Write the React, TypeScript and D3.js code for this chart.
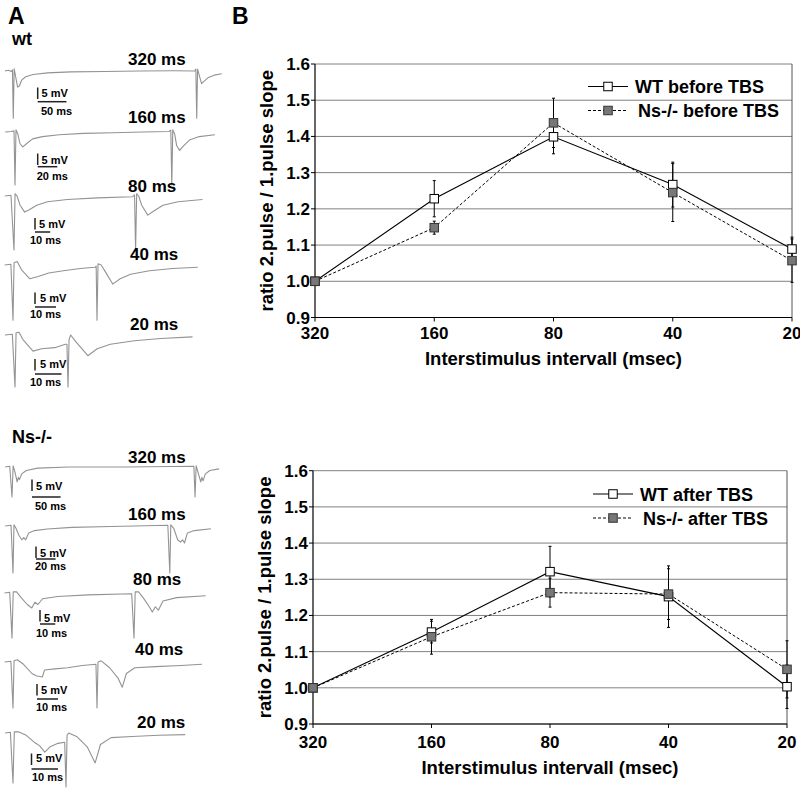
import React from "react";
import * as d3 from "d3";

// ---------- chart data ----------
const categories = ["320", "160", "80", "40", "20"];
const yTicks = [0.9, 1.0, 1.1, 1.2, 1.3, 1.4, 1.5, 1.6];

const wtBefore = [1.0, 1.228, 1.399, 1.267, 1.089];
const wtBeforeErr = [0, 0.05, 0.047, 0.062, 0.033];
const nsBefore = [1.0, 1.148, 1.4375, 1.245, 1.057];
const nsBeforeErr = [0, 0.018, 0.068, 0.08, 0.06];

const wtAfter = [1.0, 1.154, 1.321, 1.252, 1.003];
const wtAfterErr = [0, 0.03, 0.07, 0.085, 0.06];
const nsAfter = [1.0, 1.141, 1.263, 1.259, 1.051];
const nsAfterErr = [0, 0.048, 0.04, 0.07, 0.079];

const legendBefore = ["WT before TBS", "Ns-/- before TBS"];
const legendAfter = ["WT after TBS", "Ns-/- after TBS"];

// ---------- trace data: [time ms, mV] ----------
const wt320: [number, number][] = [[-14,0],[-8,0.3],[-3,-0.2],[-1,0.5],[0.5,-20.5],[2,1],[5,-3],[8,-7],[11,-6.5],[15,-4],[22,-2.5],[35,-1.5],[60,-0.8],[100,-0.4],[160,-0.2],[220,0],[280,0.1],[316,0],[318,0.8],[319.5,-20.5],[321,0.8],[324,-2],[328,-5.5],[332,-4.5],[340,-2.8],[350,-1.8],[363,-1.2]];
const wt160: [number, number][] = [[-10,0],[-4,0.2],[-1,0.5],[0,-23],[1,1],[3,-1],[5,-5],[8,-6.5],[12,-5],[18,-3],[28,-2],[45,-1.2],[70,-0.6],[100,-0.3],[130,0],[157,0.2],[159,0.8],[160,-23],[161,1],[163,-1],[165,-6],[168,-8],[172,-6],[178,-3.5],[188,-2],[204,-1.2]];
const wt80: [number, number][] = [[-6,0],[-2,0.3],[0,-23.5],[0.7,1],[2,0],[4,-4],[7,-7],[10,-6],[15,-4],[22,-2.5],[35,-1.5],[55,-0.8],[78,-0.3],[79.3,0.5],[80,-23.5],[80.7,1],[82,0],[84,-4],[88,-8.3],[92,-6.5],[98,-4],[108,-2.5],[124,-1.5]];
const wt40: [number, number][] = [[-4,0],[-1,0.3],[0,-24],[0.5,1],[2,1.5],[4,-2],[8,-6],[12,-5],[17,-3.5],[24,-2.5],[32,-1.5],[39,-1],[39.6,-0.5],[40,-24],[40.5,0.5],[42,0],[44,-3],[47.5,-8.3],[51,-6],[56,-4],[65,-2.5],[76,-1.5],[88,-1]];
const wt20: [number, number][] = [[-3.8,0],[-1,0.3],[0,-22.6],[0.4,1],[1.5,1.2],[3,-2],[6.8,-7],[10,-6],[15,-5.5],[19,-4],[19.6,-4],[20,-22.6],[20.4,-2],[21,0],[23,-3],[27.5,-9],[31,-6],[36,-4],[45,-2.5],[55,-1.5],[67,-0.8]];

const ns320: [number, number][] = [[-12,0],[-4,0.3],[0,-13],[2,0.5],[5,-2],[9,-6.5],[11,-4.5],[13,-5.5],[17,-3],[25,-1.5],[45,-0.5],[100,0],[200,0],[318,0.3],[320,-13],[322,0.5],[326,-3],[330,-6.5],[332,-4.5],[334,-6],[338,-3],[346,-1.5],[362,-0.8]];
const ns160: [number, number][] = [[-8,0],[-2,0.3],[0,-20.4],[1,0.5],[3,-1],[6,-4],[9,-6],[11,-5],[13,-6],[16,-3],[22,-2],[35,-1.3],[60,-0.6],[100,-0.2],[158,0.3],[160,-20.4],[161,0.5],[164,-1],[168,-6],[171,-7],[173,-6],[175,-7.4],[178,-3],[185,-2],[202,-1.2]];
const ns80: [number, number][] = [[-5,0],[-1.5,0.3],[0,-19.6],[0.8,0.5],[3,0.5],[6,-2],[10,-5],[13,-6.5],[15,-4],[17,-5],[20,-2.5],[30,-1.5],[50,-0.8],[78.5,-0.3],[80,-19.6],[80.8,0.5],[83,0.5],[86,-2],[90,-6],[92,-8.3],[94,-6],[96,-7.5],[99,-3.5],[108,-2],[127,-1.2]];
const ns40: [number, number][] = [[-4,0],[-1,0.3],[0,-20],[0.5,0.5],[2,1],[5,-1],[9,-5],[11,-6],[14,-6.5],[15,-3.5],[20,-3],[26,-2.5],[33,-1.5],[39.5,-1],[40,-20],[40.5,0],[42,0.5],[46,-2.5],[50,-7],[52,-11],[54,-5],[58,-2.5],[68,-2],[80,-1.5],[90,-1]];
const ns20: [number, number][] = [[-3,0],[-1,0.3],[0,-21.7],[0.5,0.5],[2,0.5],[5,-1],[8,-4],[10,-5.5],[12,-8.3],[14,-6],[17,-4.5],[19.5,-4],[20,-23.5],[20.4,-1],[21,0],[24,-1.5],[28,-6],[31,-13],[33,-5],[37,-2],[45,-1.5],[55,-1],[65,-0.7]];

const traceLabels = ["320 ms", "160 ms", "80 ms", "40 ms", "20 ms"];
const scaleMs = [50, 20, 10, 10, 10];
const scaleMv = 5;

// ---------- layout ----------
const FONT = "'Liberation Sans', Arial, Helvetica, sans-serif";
const PX_MV = 2.3;

const wtLayout = [
  { data: wt320, baseY: 71, stimX: 13, pxMs: 0.575, lx: 128, ly: 65, vx: 37.7, vy: 87.5, hy: 101.7, mvx: 41.5, mvy: 96.5, msx: 41, msy: 114.5 },
  { data: wt160, baseY: 132, stimX: 15, pxMs: 0.98, lx: 128, ly: 123, vx: 37.7, vy: 153.5, hy: 166.7, mvx: 41.5, mvy: 163.5, msx: 36.7, msy: 179.5 },
  { data: wt80, baseY: 196, stimX: 14, pxMs: 1.52, lx: 128, ly: 192, vx: 35, vy: 218, hy: 232, mvx: 39, mvy: 228, msx: 30, msy: 244 },
  { data: wt40, baseY: 265, stimX: 13, pxMs: 2.1, lx: 130, ly: 260, vx: 35, vy: 292.5, hy: 307, mvx: 40, mvy: 302, msx: 30, msy: 318 },
  { data: wt20, baseY: 335, stimX: 15, pxMs: 2.65, lx: 130, ly: 330, vx: 35, vy: 359, hy: 374, mvx: 40, mvy: 368, msx: 30, msy: 386 },
];
const nsLayout = [
  { data: ns320, baseY: 467, stimX: 12, pxMs: 0.572, lx: 128, ly: 463, vx: 32, vy: 479.5, hy: 497, mvx: 36, mvy: 490, msx: 35, msy: 510 },
  { data: ns160, baseY: 526, stimX: 13, pxMs: 0.98, lx: 128, ly: 520, vx: 36, vy: 546.5, hy: 559, mvx: 40, mvy: 557, msx: 35, msy: 570 },
  { data: ns80, baseY: 593, stimX: 12, pxMs: 1.525, lx: 133, ly: 585, vx: 40, vy: 610, hy: 624, mvx: 44, mvy: 622, msx: 36, msy: 637 },
  { data: ns40, baseY: 662, stimX: 13, pxMs: 2.1, lx: 135, ly: 655, vx: 37, vy: 684, hy: 699, mvx: 41, mvy: 694, msx: 36, msy: 711 },
  { data: ns20, baseY: 733, stimX: 13, pxMs: 2.65, lx: 137, ly: 728, vx: 31.5, vy: 753.5, hy: 769, mvx: 36, mvy: 762, msx: 32, msy: 781 },
];

type Lay = typeof wtLayout[number];

function Trace({ lay, i }: { lay: Lay; i: number }) {
  const x = d3.scaleLinear().domain([0, 1]).range([lay.stimX, lay.stimX + lay.pxMs]);
  const y = d3.scaleLinear().domain([0, -1]).range([lay.baseY, lay.baseY + PX_MV]);
  const line = d3.line<[number, number]>().x((d) => x(d[0])).y((d) => y(d[1]));
  const vLen = y(-scaleMv) - y(0);
  const hLen = x(scaleMs[i]) - x(0);
  return (
    <g>
      <path d={line(lay.data) || ""} fill="none" stroke="#939393" strokeWidth={1.1} strokeLinejoin="round" />
      <text x={lay.lx} y={lay.ly} fontFamily={FONT} fontWeight="bold" fontSize={17}>{traceLabels[i]}</text>
      <line x1={lay.vx} x2={lay.vx} y1={lay.vy} y2={lay.vy + vLen} stroke="#222" strokeWidth={1.5} />
      <line x1={lay.vx} x2={lay.vx + hLen} y1={lay.hy} y2={lay.hy} stroke="#222" strokeWidth={1.5} />
      <text x={lay.mvx} y={lay.mvy} fontFamily={FONT} fontWeight="bold" fontSize={11}>{scaleMv + " mV"}</text>
      <text x={lay.msx} y={lay.msy} fontFamily={FONT} fontWeight="bold" fontSize={11}>{scaleMs[i] + " ms"}</text>
    </g>
  );
}

interface ChartProps {
  left: number; right: number; top: number; bottom: number;
  wt: number[]; wtErr: number[]; ns: number[]; nsErr: number[];
  legend: string[];
  legX: number; legY: number; legTextX: number;
  tickY: number; titleY: number; yTitleX: number;
}

function Chart(p: ChartProps) {
  const x = d3.scalePoint<string>().domain(categories).range([p.left, p.right]);
  const y = d3.scaleLinear().domain([0.9, 1.6]).range([p.bottom, p.top]);
  const line = d3.line<number>().x((_, i) => x(categories[i])!).y((d) => y(d));
  const ms = 8.5;
  const errBars = (vals: number[], errs: number[], key: string) =>
    vals.map((v, i) =>
      errs[i] > 0 ? (
        <g key={key + i} stroke="#000" strokeWidth={1}>
          <line x1={x(categories[i])} x2={x(categories[i])} y1={y(v - errs[i])} y2={y(v + errs[i])} />
          <line x1={x(categories[i])! - 1.5} x2={x(categories[i])! + 1.5} y1={y(v - errs[i])} y2={y(v - errs[i])} />
          <line x1={x(categories[i])! - 1.5} x2={x(categories[i])! + 1.5} y1={y(v + errs[i])} y2={y(v + errs[i])} />
        </g>
      ) : null
    );
  const markers = (vals: number[], fill: string, stroke: string, key: string) =>
    vals.map((v, i) => (
      <rect key={key + i} x={x(categories[i])! - ms / 2} y={y(v) - ms / 2} width={ms} height={ms} fill={fill} stroke={stroke} strokeWidth={1} />
    ));
  const midY = (p.top + p.bottom) / 2;
  return (
    <g>
      {yTicks.map((t) => (
        <line key={"g" + t} x1={p.left} x2={p.right} y1={y(t)} y2={y(t)} stroke="#808080" strokeWidth={1} />
      ))}
      <line x1={p.right} x2={p.right} y1={p.top} y2={p.bottom} stroke="#555" strokeWidth={1} />
      <line x1={p.left} x2={p.left} y1={p.top} y2={p.bottom} stroke="#000" strokeWidth={1.2} />
      <line x1={p.left} x2={p.right} y1={p.bottom} y2={p.bottom} stroke="#000" strokeWidth={1.2} />
      {yTicks.map((t) => (
        <g key={"yt" + t}>
          <line x1={p.left - 4} x2={p.left} y1={y(t)} y2={y(t)} stroke="#000" />
          <text x={p.left - 5} y={y(t) + 6} textAnchor="end" fontFamily={FONT} fontWeight="bold" fontSize={17}>{t.toFixed(1)}</text>
        </g>
      ))}
      {categories.map((c) => (
        <g key={"xt" + c}>
          <line x1={x(c)} x2={x(c)} y1={p.bottom} y2={p.bottom + 4} stroke="#000" />
          <text x={x(c)} y={p.tickY} textAnchor="middle" fontFamily={FONT} fontWeight="bold" fontSize={17}>{c}</text>
        </g>
      ))}
      <text x={(p.left + p.right) / 2} y={p.titleY} textAnchor="middle" fontFamily={FONT} fontWeight="bold" fontSize={18.5}>Interstimulus intervall (msec)</text>
      <text transform={`translate(${p.yTitleX},${midY}) rotate(-90)`} textAnchor="middle" fontFamily={FONT} fontWeight="bold" fontSize={18.5}>ratio 2.pulse / 1.pulse slope</text>

      <path d={line(p.wt) || ""} fill="none" stroke="#000" strokeWidth={1.1} />
      <path d={line(p.ns) || ""} fill="none" stroke="#000" strokeWidth={1} strokeDasharray="3,2" />
      {errBars(p.wt, p.wtErr, "ew")}
      {errBars(p.ns, p.nsErr, "en")}
      {markers(p.wt, "#fff", "#000", "mw")}
      {markers(p.ns, "#777", "#333", "mn")}

      {/* legend */}
      <g>
        <line x1={p.legX} x2={p.legX + 40} y1={p.legY} y2={p.legY} stroke="#000" strokeWidth={1.1} />
        <rect x={p.legX + 20 - ms / 2} y={p.legY - ms / 2} width={ms} height={ms} fill="#fff" stroke="#000" />
        <text x={p.legTextX} y={p.legY + 6.5} fontFamily={FONT} fontWeight="bold" fontSize={18}>{p.legend[0]}</text>
        <line x1={p.legX} x2={p.legX + 40} y1={p.legY + 24} y2={p.legY + 24} stroke="#000" strokeWidth={1} strokeDasharray="3,2" />
        <rect x={p.legX + 20 - ms / 2} y={p.legY + 24 - ms / 2} width={ms} height={ms} fill="#777" stroke="#333" />
        <text x={p.legTextX + 3} y={p.legY + 24 + 6.5} fontFamily={FONT} fontWeight="bold" fontSize={18}>{p.legend[1]}</text>
      </g>
    </g>
  );
}

export default function App() {
  return (
    <svg width={800} height={788} style={{ position: "absolute", left: 0, top: 0, background: "#fff" }}>
      <rect x={0} y={0} width={800} height={788} fill="#fff" />
      <text x={8} y={24} fontFamily={FONT} fontWeight="bold" fontSize={23}>A</text>
      <text x={232} y={24} fontFamily={FONT} fontWeight="bold" fontSize={23}>B</text>
      <text x={12} y={45} fontFamily={FONT} fontWeight="bold" fontSize={18}>wt</text>
      <text x={12} y={443} fontFamily={FONT} fontWeight="bold" fontSize={18}>Ns-/-</text>
      {wtLayout.map((l, i) => <Trace key={"w" + i} lay={l} i={i} />)}
      {nsLayout.map((l, i) => <Trace key={"n" + i} lay={l} i={i} />)}
      <Chart left={315} right={792} top={64} bottom={317.5}
        wt={wtBefore} wtErr={wtBeforeErr} ns={nsBefore} nsErr={nsBeforeErr}
        legend={legendBefore} legX={588} legY={86.5} legTextX={635}
        tickY={339} titleY={365} yTitleX={273} />
      <Chart left={313} right={787} top={470.7} bottom={724}
        wt={wtAfter} wtErr={wtAfterErr} ns={nsAfter} nsErr={nsAfterErr}
        legend={legendAfter} legX={593} legY={494} legTextX={640}
        tickY={748} titleY={774} yTitleX={271} />
    </svg>
  );
}
